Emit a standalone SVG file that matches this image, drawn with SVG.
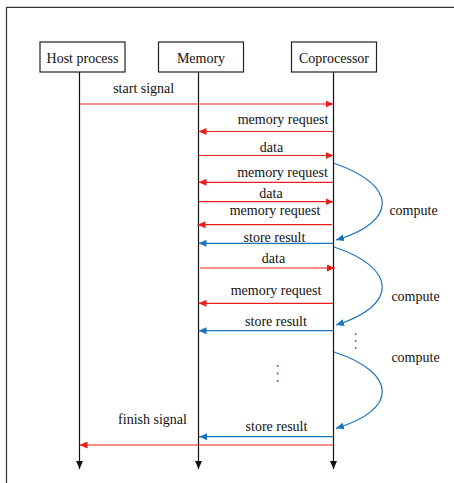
<svg xmlns="http://www.w3.org/2000/svg" width="454" height="483" viewBox="0 0 454 483">
<defs>
<style>
text{font-family:"Liberation Serif","Times New Roman",serif;font-size:14px;fill:#111}
.box{fill:#fff;stroke:#222;stroke-width:1.2}
.life{stroke:#111;stroke-width:1.2;fill:none}
.red{stroke:#ee1c1c;stroke-width:1.2;fill:none}
.blue{stroke:#1a74bd;stroke-width:1.2;fill:none}
.m{text-anchor:middle}
</style>
<marker id="ar" markerUnits="userSpaceOnUse" markerWidth="9" markerHeight="7" refX="8" refY="3.5" orient="auto"><path d="M0,0 L8,3.5 L0,7 z" fill="#ee1c1c"/></marker>
<marker id="ab" markerUnits="userSpaceOnUse" markerWidth="9" markerHeight="7" refX="8" refY="3.5" orient="auto"><path d="M0,0 L8,3.5 L0,7 z" fill="#1a74bd"/></marker>
<marker id="ak" markerUnits="userSpaceOnUse" markerWidth="9" markerHeight="7" refX="8" refY="3.5" orient="auto"><path d="M0,0 L8,3.5 L0,7 z" fill="#111"/></marker>
</defs>
<rect width="454" height="483" fill="#fff"/>
<path d="M6.5,483 V7.3 H454" fill="none" stroke="#333" stroke-width="1.2"/>
<g id="host"><rect class="box" x="40" y="42" width="85" height="30"/><text class="m" x="82.5" y="62.5">Host process</text></g>
<g id="memory"><rect class="box" x="158.5" y="42" width="85" height="30"/><text class="m" x="201" y="62.5">Memory</text></g>
<g id="coprocessor"><rect class="box" x="291.5" y="42" width="85" height="30"/><text class="m" x="334" y="62.5">Coprocessor</text></g>
<g id="connectors">
<line class="life" x1="79.5" y1="72" x2="79.5" y2="469" marker-end="url(#ak)"/>
<line class="life" x1="198.5" y1="72" x2="198.5" y2="469" marker-end="url(#ak)"/>
<line class="life" x1="333.5" y1="72" x2="333.5" y2="469" marker-end="url(#ak)" stroke="#444"/>
<line class="red" x1="79.5" y1="104" x2="333.5" y2="104" marker-end="url(#ar)"/>
<line class="red" x1="333.5" y1="131.5" x2="198.5" y2="131.5" marker-end="url(#ar)"/>
<line class="red" x1="198.5" y1="155.5" x2="333.5" y2="155.5" marker-end="url(#ar)"/>
<line class="red" x1="333.5" y1="182.3" x2="198.5" y2="182.3" marker-end="url(#ar)"/>
<line class="red" x1="198.5" y1="201.7" x2="333.5" y2="201.7" marker-end="url(#ar)"/>
<line class="red" x1="332" y1="224.7" x2="197.5" y2="224.7" marker-end="url(#ar)"/>
<line class="blue" x1="333.5" y1="243.3" x2="198.5" y2="243.3" marker-end="url(#ab)"/>
<line class="red" x1="200" y1="268" x2="335" y2="268" marker-end="url(#ar)"/>
<line class="red" x1="333.5" y1="303.3" x2="198.5" y2="303.3" marker-end="url(#ar)"/>
<line class="blue" x1="333.5" y1="330.7" x2="198.5" y2="330.7" marker-end="url(#ab)"/>
<line class="blue" x1="333.5" y1="436.7" x2="199" y2="436.7" marker-end="url(#ab)"/>
<line class="red" x1="333.5" y1="445" x2="79.5" y2="445" marker-end="url(#ar)"/>
<path class="blue" d="M334,163.3 C398,185 398,222 336,240" marker-end="url(#ab)"/>
<path class="blue" d="M334,247 C398,268 398,306 336,325" marker-end="url(#ab)"/>
<path class="blue" d="M334,352 C398,373 398,410 336,428.3" marker-end="url(#ab)"/>
</g>
<g id="labels">
<text class="m" x="143.7" y="93">start signal</text>
<text class="m" x="283" y="123.5">memory request</text>
<text class="m" x="271.5" y="151.5">data</text>
<text class="m" x="282.5" y="176.5">memory request</text>
<text class="m" x="271" y="198">data</text>
<text class="m" x="275" y="214.5">memory request</text>
<text class="m" x="274.5" y="242">store result</text>
<text class="m" x="273.5" y="262.5">data</text>
<text class="m" x="276" y="294.5">memory request</text>
<text class="m" x="276" y="326">store result</text>
<text class="m" x="152.5" y="423.5">finish signal</text>
<text class="m" x="276.5" y="430.5">store result</text>
<text class="m" x="413.5" y="215">compute</text>
<text class="m" x="415.5" y="300.5">compute</text>
<text class="m" x="415.5" y="362">compute</text>
</g>
<g id="dots">
<circle cx="355.7" cy="334" r="0.9" fill="#1a74bd"/><circle cx="355.7" cy="341" r="0.9" fill="#1a74bd"/><circle cx="355.7" cy="348" r="0.9" fill="#1a74bd"/>
<circle cx="277.7" cy="366" r="0.9" fill="#ee1c1c"/><circle cx="277.7" cy="373.5" r="0.9" fill="#ee1c1c"/><circle cx="277.7" cy="381" r="0.9" fill="#ee1c1c"/>
</g>
</svg>
